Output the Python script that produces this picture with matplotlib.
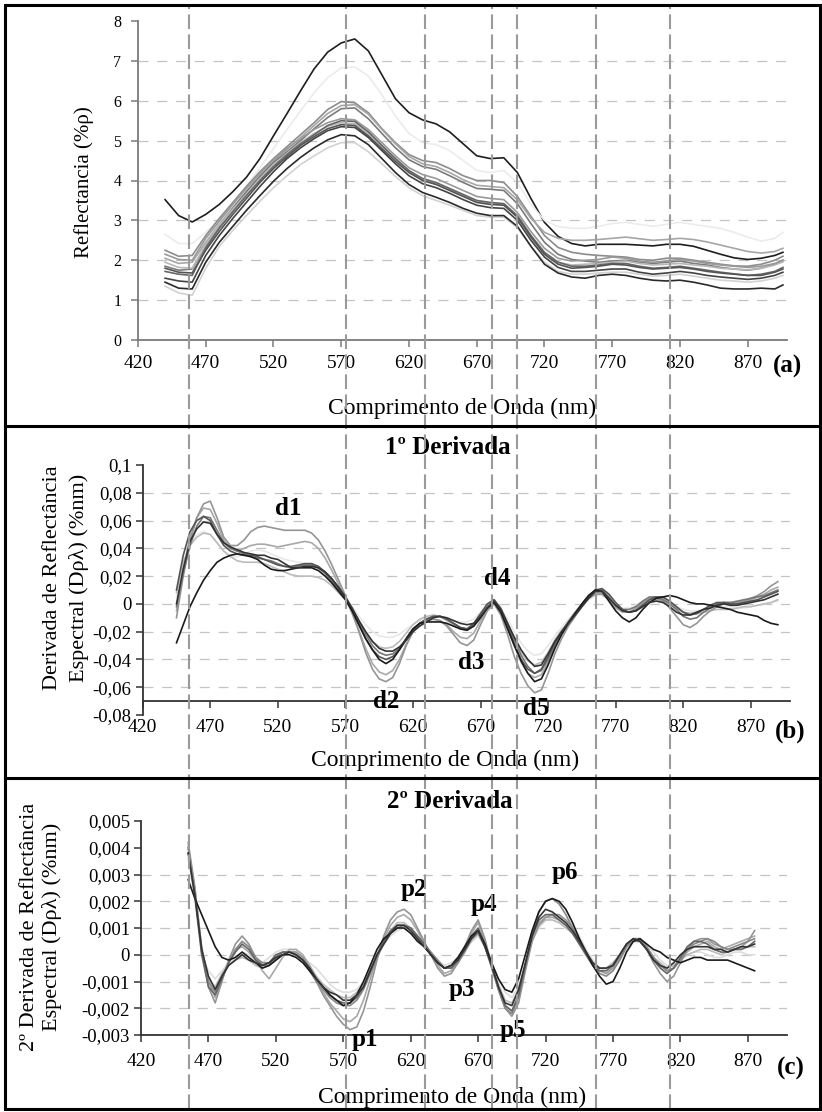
import matplotlib.pyplot as plt
from matplotlib import transforms
from matplotlib.lines import Line2D
from matplotlib.patches import Rectangle

plt.rcParams['font.family'] = ['Liberation Serif', 'DejaVu Serif']

W, H = 822, 1112

# ---------------- data ----------------
# (a) reflectance, %
wl_a = list(range(440, 891, 10)) + [896]
refl = {
    '#1e1e1e': [3.52, 3.12, 2.96, 3.15, 3.40, 3.72, 4.08, 4.55, 5.12, 5.68,
                6.25, 6.80, 7.22, 7.45, 7.55, 7.25, 6.65, 6.05, 5.70, 5.52,
                5.42, 5.22, 4.92, 4.62, 4.55, 4.57, 4.20, 3.55, 2.95, 2.60,
                2.42, 2.36, 2.40, 2.40, 2.40, 2.38, 2.36, 2.40, 2.40, 2.35,
                2.25, 2.15, 2.06, 2.02, 2.05, 2.12, 2.20],
    '#ececec': [2.65, 2.42, 2.42, 2.70, 3.02, 3.42, 3.85, 4.32, 4.80, 5.28,
                5.75, 6.20, 6.58, 6.82, 6.85, 6.62, 6.15, 5.62, 5.18, 4.95,
                4.90, 4.75, 4.50, 4.25, 4.20, 4.25, 3.95, 3.40, 3.00, 2.85,
                2.80, 2.80, 2.85, 2.92, 2.95, 2.90, 2.85, 2.90, 2.95, 2.90,
                2.85, 2.80, 2.70, 2.58, 2.48, 2.55, 2.70],
    '#8c8c8c': [2.25, 2.10, 2.12, 2.62, 3.05, 3.45, 3.85, 4.22, 4.55, 4.85,
                5.15, 5.45, 5.78, 5.98, 5.95, 5.70, 5.30, 4.95, 4.65, 4.50,
                4.45, 4.30, 4.12, 4.00, 4.00, 3.95, 3.60, 3.10, 2.62, 2.32,
                2.20, 2.15, 2.12, 2.10, 2.08, 2.02, 2.00, 2.05, 2.05, 2.00,
                1.95, 1.90, 1.86, 1.85, 1.90, 2.00, 2.10],
    '#a6a6a6': [2.05, 1.92, 1.95, 2.45, 2.90, 3.32, 3.72, 4.12, 4.48, 4.78,
                5.08, 5.38, 5.68, 5.88, 5.90, 5.66, 5.28, 4.92, 4.60, 4.42,
                4.35, 4.20, 4.02, 3.88, 3.85, 3.82, 3.52, 3.05, 2.70, 2.55,
                2.50, 2.50, 2.52, 2.55, 2.58, 2.54, 2.50, 2.52, 2.55, 2.52,
                2.46, 2.38, 2.30, 2.22, 2.18, 2.22, 2.30],
    '#7a7a7a': [1.85, 1.75, 1.78, 2.35, 2.85, 3.30, 3.72, 4.10, 4.45, 4.72,
                5.00, 5.30, 5.58, 5.80, 5.82, 5.55, 5.18, 4.82, 4.52, 4.35,
                4.28, 4.12, 3.95, 3.80, 3.78, 3.75, 3.42, 2.92, 2.45, 2.15,
                2.02, 1.98, 1.95, 1.98, 2.00, 1.95, 1.92, 1.95, 1.98, 1.92,
                1.88, 1.82, 1.78, 1.75, 1.80, 1.90, 2.00],
    '#d2d2d2': [1.35, 1.18, 1.12, 1.80, 2.35, 2.75, 3.12, 3.48, 3.82, 4.12,
                4.40, 4.62, 4.82, 4.95, 4.95, 4.72, 4.42, 4.10, 3.82, 3.62,
                3.50, 3.38, 3.25, 3.12, 3.08, 3.08, 2.82, 2.35, 1.95, 1.72,
                1.65, 1.65, 1.68, 1.70, 1.70, 1.65, 1.60, 1.62, 1.65, 1.60,
                1.55, 1.50, 1.48, 1.45, 1.48, 1.55, 1.62],
    '#b8b8b8': [1.95, 1.82, 1.80, 2.40, 2.88, 3.28, 3.66, 4.05, 4.40, 4.68,
                4.95, 5.18, 5.36, 5.45, 5.42, 5.18, 4.86, 4.52, 4.22, 4.02,
                3.92, 3.78, 3.62, 3.48, 3.42, 3.40, 3.10, 2.62, 2.18, 1.95,
                1.88, 1.90, 1.92, 1.95, 1.98, 1.92, 1.88, 1.90, 1.92, 1.88,
                1.85, 1.80, 1.78, 1.76, 1.80, 1.88, 1.96],
    '#999999': [2.15, 2.02, 2.00, 2.55, 2.98, 3.40, 3.80, 4.18, 4.52, 4.80,
                5.05, 5.28, 5.45, 5.55, 5.52, 5.28, 4.95, 4.62, 4.32, 4.15,
                4.05, 3.90, 3.75, 3.60, 3.55, 3.52, 3.20, 2.72, 2.30, 2.05,
                1.98, 2.00, 2.02, 2.08, 2.05, 1.98, 1.95, 1.98, 2.02, 1.98,
                1.92, 1.88, 1.85, 1.82, 1.85, 1.92, 2.00],
    '#666666': [1.72, 1.65, 1.62, 2.30, 2.80, 3.22, 3.62, 4.00, 4.35, 4.65,
                4.92, 5.15, 5.38, 5.50, 5.48, 5.22, 4.88, 4.55, 4.25, 4.05,
                3.95, 3.80, 3.65, 3.50, 3.45, 3.42, 3.12, 2.62, 2.20, 1.95,
                1.85, 1.85, 1.88, 1.92, 1.92, 1.85, 1.80, 1.82, 1.85, 1.80,
                1.75, 1.70, 1.66, 1.62, 1.65, 1.72, 1.82],
    '#555555': [1.80, 1.70, 1.68, 2.25, 2.72, 3.15, 3.55, 3.95, 4.30, 4.60,
                4.88, 5.10, 5.30, 5.40, 5.38, 5.12, 4.80, 4.48, 4.20, 4.00,
                3.90, 3.75, 3.60, 3.45, 3.40, 3.38, 3.08, 2.58, 2.15, 1.90,
                1.80, 1.82, 1.85, 1.90, 1.88, 1.82, 1.78, 1.80, 1.82, 1.78,
                1.72, 1.68, 1.65, 1.62, 1.62, 1.70, 1.78],
    '#444444': [1.55, 1.48, 1.45, 2.12, 2.62, 3.05, 3.45, 3.85, 4.22, 4.55,
                4.82, 5.05, 5.25, 5.35, 5.33, 5.08, 4.75, 4.42, 4.12, 3.92,
                3.82, 3.68, 3.52, 3.38, 3.32, 3.30, 3.00, 2.50, 2.08, 1.82,
                1.72, 1.72, 1.75, 1.78, 1.78, 1.70, 1.65, 1.68, 1.72, 1.68,
                1.62, 1.58, 1.55, 1.52, 1.55, 1.62, 1.70],
    '#2a2a2a': [1.45, 1.30, 1.28, 1.95, 2.45, 2.85, 3.25, 3.62, 3.98, 4.30,
                4.58, 4.82, 5.02, 5.15, 5.12, 4.90, 4.55, 4.20, 3.90, 3.70,
                3.58, 3.45, 3.30, 3.18, 3.12, 3.12, 2.85, 2.35, 1.90, 1.68,
                1.58, 1.55, 1.62, 1.65, 1.62, 1.55, 1.50, 1.48, 1.50, 1.45,
                1.38, 1.30, 1.28, 1.28, 1.30, 1.28, 1.38],
}

# (b) first derivative, units of 0.001 %/nm
wl_b = list(range(445, 891, 5))
deriv1 = {
    '#e8e8e8': [5, 28, 42, 50, 52, 50, 44, 38, 34, 34,
                36, 38, 39, 38, 36, 34, 32, 31, 30, 29,
                28, 26, 22, 17, 11, 5, -2, -9, -15, -20,
                -23, -24, -24, -22, -18, -15, -12, -10, -9, -9,
                -10, -12, -13, -13, -11, -6, -1, 2, -3, -11,
                -20, -28, -34, -37, -36, -30, -23, -17, -11, -6,
                -1, 3, 6, 6, 3, -1, -3, -3, -1, 2,
                4, 4, 3, 1, -2, -4, -5, -5, -4, -3,
                -2, -2, -2, -3, -3, -2, -1, 0, 1, 2],
    '#bbbbbb': [8, 30, 42, 48, 51, 50, 44, 38, 34, 31,
                30, 30, 30, 29, 27, 25, 23, 21, 20, 20,
                20, 19, 17, 13, 8, 3, -4, -12, -20, -27,
                -31, -32, -31, -27, -21, -15, -11, -9, -8, -9,
                -12, -15, -18, -19, -16, -9, -2, 1, -5, -15,
                -26, -35, -41, -44, -42, -35, -26, -19, -13, -7,
                -1, 4, 7, 7, 3, -2, -5, -6, -4, -1,
                2, 3, 2, 0, -3, -6, -7, -7, -6, -5,
                -4, -4, -4, -3, -2, -2, -1, 0, 1, 3],
    '#a8a8a8': [-5, 25, 48, 62, 69, 68, 58, 46, 40, 38,
                40, 42, 43, 43, 42, 41, 42, 43, 44, 45,
                44, 40, 33, 24, 14, 4, -7, -19, -32, -43,
                -49, -51, -48, -40, -29, -20, -15, -12, -11, -12,
                -15, -20, -24, -25, -21, -12, -4, 1, -5, -17,
                -30, -42, -50, -53, -51, -42, -31, -22, -14, -7,
                -1, 5, 8, 8, 3, -3, -6, -6, -3, 1,
                4, 5, 4, 1, -3, -6, -7, -6, -4, -2,
                0, 1, 1, 0, 1, 3, 5, 7, 10, 12],
    '#959595': [-10, 20, 45, 62, 72, 74, 62, 48, 42, 42,
                46, 52, 55, 56, 55, 54, 53, 53, 53, 53,
                51, 46, 38, 28, 17, 6, -6, -20, -35, -47,
                -54, -56, -53, -43, -30, -20, -14, -12, -11, -12,
                -16, -22, -28, -30, -26, -15, -5, 0, -8, -22,
                -38, -50, -59, -64, -62, -50, -36, -25, -16, -9,
                -2, 4, 7, 7, 3, -2, -5, -6, -4, 0,
                3, 4, 2, -3, -9, -15, -17, -14, -9, -5,
                -2, 0, 0, 1, 2, 4, 6, 9, 13, 16],
    '#777777': [-2, 22, 42, 56, 63, 62, 53, 44, 40, 38,
                36, 34, 33, 32, 31, 29, 27, 26, 27, 28,
                28, 26, 22, 16, 10, 4, -4, -13, -22, -30,
                -35, -37, -36, -32, -25, -18, -14, -11, -9, -9,
                -11, -14, -17, -18, -15, -9, -2, 3, -3, -14,
                -26, -37, -45, -50, -48, -40, -30, -21, -13, -6,
                0, 6, 10, 10, 5, -1, -4, -4, -2, 2,
                5, 5, 3, 0, -4, -9, -11, -10, -6, -3,
                0, 1, 1, 2, 3, 4, 5, 6, 8, 10],
    '#555555': [10, 35, 52, 60, 63, 60, 50, 42, 38, 36,
                35, 35, 34, 32, 30, 28, 27, 27, 28, 29,
                29, 27, 23, 18, 11, 4, -5, -15, -25, -33,
                -38, -40, -38, -33, -26, -19, -14, -11, -9, -9,
                -11, -14, -17, -18, -14, -7, 0, 3, -4, -16,
                -29, -40, -47, -50, -47, -38, -28, -20, -13, -7,
                -1, 5, 10, 11, 7, 1, -4, -6, -5, -1,
                3, 5, 5, 2, -2, -6, -8, -7, -4, -1,
                1, 1, 0, 0, 1, 2, 3, 5, 7, 9],
    '#1a1a1a': [-28, -15, -2, 8, 17, 24, 30, 33, 35, 36,
                35, 34, 32, 28, 25, 24, 24, 25, 26, 26,
                26, 24, 20, 15, 9, 3, -5, -15, -25, -33,
                -40, -43, -40, -33, -25, -18, -14, -13, -13, -13,
                -14, -16, -18, -19, -16, -10, -3, 1, -6, -18,
                -30, -41, -50, -56, -54, -44, -32, -22, -14, -7,
                0, 6, 10, 9, 2, -5, -10, -13, -10, -4,
                1, 4, 5, 6, 5, 3, 1, 0, 0, -1,
                -2, -3, -4, -6, -7, -8, -9, -12, -14, -15],
    '#333333': [0, 25, 45, 54, 59, 58, 50, 44, 41, 39,
                37, 36, 35, 35, 33, 32, 29, 26, 26, 27,
                27, 26, 23, 18, 12, 5, -3, -12, -20, -27,
                -32, -34, -34, -31, -26, -20, -16, -13, -10, -9,
                -10, -12, -14, -15, -14, -9, -3, 2, -4, -14,
                -24, -33, -40, -45, -44, -36, -27, -20, -14, -8,
                -2, 4, 9, 9, 4, -1, -5, -6, -5, -2,
                1, 2, 1, -2, -6, -8, -8, -6, -4, -3,
                -1, 0, -1, -1, 0, 1, 2, 3, 5, 7],
}

# (c) second derivative, units of 0.0001 %/nm
wl_c = list(range(455, 876, 5))
deriv2 = {
    '#dddddd': [36, 20, 0, -6, -9, -6, -3, -1, 1, 0,
                -2, -3, -1, 1, 2, 2, 1, -1, -3, -5,
                -8, -11, -13, -14, -14, -13, -10, -5, 0, 4,
                7, 9, 10, 8, 6, 3, 0, -2, -4, -3,
                -1, 2, 5, 7, 3, -3, -9, -14, -16, -12,
                -4, 5, 10, 13, 14, 14, 13, 11, 7, 2,
                -2, -5, -6, -5, -2, 2, 5, 6, 4, 1,
                -2, -4, -4, -2, 0, 1, 1, 0, -1, -1,
                0, 1, 1, 0, 0],
    '#bbbbbb': [41, 24, 2, -9, -12, -7, -4, -2, -1, -2,
                -4, -5, -4, -2, 0, 1, 1, -1, -4, -8,
                -11, -13, -15, -16, -16, -14, -11, -6, 0, 5,
                9, 12, 12, 10, 7, 3, 0, -3, -5, -5,
                -3, 1, 5, 8, 3, -4, -11, -17, -18, -13,
                -4, 6, 11, 13, 13, 12, 10, 8, 5, 1,
                -3, -5, -5, -4, -1, 3, 5, 5, 2, -1,
                -3, -5, -4, -2, 0, 1, 2, 2, 1, 0,
                1, 2, 2, 3, 3],
    '#a8a8a8': [40, 24, 3, -10, -16, -9, -3, 2, 3, 1,
                -2, -6, -9, -5, -1, 2, 2, 0, -4, -9,
                -14, -18, -21, -24, -25, -23, -17, -9, -1, 6,
                11, 14, 15, 13, 9, 4, 0, -4, -7, -6,
                -3, 2, 8, 12, 5, -4, -12, -19, -21, -16,
                -5, 6, 12, 14, 14, 13, 11, 8, 4, 0,
                -3, -5, -5, -3, 0, 4, 6, 6, 3, -1,
                -4, -6, -5, -2, 1, 3, 4, 5, 3, 2,
                3, 4, 5, 6, 7],
    '#959595': [42, 25, 2, -12, -18, -10, -2, 4, 7, 4,
                -1, -4, -4, -2, 0, 1, 1, -1, -5, -10,
                -15, -19, -23, -26, -28, -27, -21, -12, -2, 7,
                13, 16, 17, 15, 10, 5, 0, -5, -8, -7,
                -3, 3, 9, 13, 6, -4, -13, -20, -23, -18,
                -6, 5, 11, 14, 15, 15, 13, 10, 6, 1,
                -3, -6, -7, -5, -1, 3, 5, 5, 2, -3,
                -7, -10, -8, -3, 2, 5, 6, 6, 4, 3,
                2, 2, 3, 5, 9],
    '#888888': [40, 23, 1, -10, -14, -8, -3, 2, 5, 3,
                -1, -3, -3, -1, 1, 1, 0, -2, -6, -10,
                -13, -16, -18, -19, -19, -17, -13, -7, -1, 4,
                8, 10, 11, 10, 7, 4, 1, -2, -5, -5,
                -3, 1, 6, 8, 3, -5, -13, -20, -22, -16,
                -4, 8, 16, 20, 21, 19, 15, 10, 5, 0,
                -4, -7, -8, -6, -2, 3, 6, 6, 3, -1,
                -4, -6, -5, -2, 2, 4, 5, 6, 5, 3,
                2, 3, 4, 5, 6],
    '#666666': [38, 22, 0, -12, -15, -9, -3, 1, 4, 2,
                -2, -4, -3, 0, 1, 1, 0, -2, -5, -9,
                -12, -15, -17, -18, -18, -16, -12, -6, 0, 5,
                9, 11, 11, 10, 7, 4, 0, -3, -5, -5,
                -2, 2, 7, 10, 4, -4, -12, -19, -21, -15,
                -4, 7, 13, 15, 15, 13, 11, 8, 4, 0,
                -4, -6, -6, -4, 0, 4, 6, 5, 2, -2,
                -5, -7, -5, -1, 3, 5, 5, 4, 2, 1,
                1, 2, 2, 3, 5],
    '#1a1a1a': [28, 21, 15, 9, 3, -1, -2, -1, 1, -1,
                -3, -5, -4, -2, 0, 0, -1, -3, -6, -9,
                -12, -15, -17, -19, -18, -15, -10, -4, 2, 6,
                8, 10, 10, 8, 5, 3, 0, -3, -5, -4,
                -1, 3, 7, 9, 4, -3, -9, -13, -14, -9,
                0, 9, 16, 20, 21, 20, 17, 12, 6, 1,
                -4, -8, -11, -10, -5, 1, 5, 6, 4, 2,
                1, -1, -2, -3, -2, -1, -1, -2, -2, -2,
                -2, -3, -4, -5, -6],
    '#333333': [38, 22, 2, -8, -13, -8, -4, -2, 0, -2,
                -3, -4, -3, -1, 0, 1, 0, -2, -5, -9,
                -12, -14, -15, -17, -17, -15, -12, -6, 0, 4,
                8, 11, 11, 9, 6, 3, 0, -3, -5, -4,
                -2, 2, 6, 9, 3, -4, -12, -18, -19, -13,
                -3, 7, 14, 17, 16, 14, 12, 9, 5, 1,
                -3, -5, -5, -4, 0, 4, 6, 5, 2, -2,
                -4, -5, -3, 0, 2, 3, 3, 3, 2, 2,
                1, 2, 3, 3, 4],
}

# wavelengths of the vertical reference lines, nm
markers_nm = [458, 573.5, 631.5, 681, 700, 758, 813]
xticks = list(range(420, 871, 50))
yt_a = list(range(0, 9))
yt_b = [-0.08, -0.06, -0.04, -0.02, 0, 0.02, 0.04, 0.06, 0.08, 0.1]
yt_c = [-0.003, -0.002, -0.001, 0, 0.001, 0.002, 0.003, 0.004, 0.005]

labels_b = [('d1', 528, 0.069), ('d2', 600, -0.0705), ('d3', 663, -0.0425),
            ('d4', 682, 0.0186), ('d5', 711, -0.0752)]
labels_c = [('p1', 586, -0.00315), ('p2', 622, 0.00243), ('p3', 658, -0.0013),
            ('p4', 674, 0.00187), ('p5', 696, -0.00285), ('p6', 734, 0.00306)]

# ---------------- figure ----------------
fig = plt.figure(figsize=(W / 100, H / 100), dpi=100)


def px_axes(left, top, right, bottom):
    return fig.add_axes([left / W, 1 - bottom / H, (right - left) / W, (bottom - top) / H])


def style(ax, ticks, grid, spine_color, xfs, yfs, xpad, ypad, fmt):
    for s in ('top', 'right'):
        ax.spines[s].set_visible(False)
    for s in ('left', 'bottom'):
        ax.spines[s].set_color(spine_color)
        ax.spines[s].set_linewidth(1.3)
    ax.set_xlim(420, 899)
    ax.set_xticks(xticks)
    ax.set_yticks(ticks)
    ax.set_yticklabels([fmt(v) for v in ticks])
    ax.tick_params(direction='out', length=5, width=1.1, color=spine_color)
    ax.tick_params(axis='x', labelsize=xfs, pad=xpad)
    ax.tick_params(axis='y', labelsize=yfs, pad=ypad)
    for g in grid:
        ax.axhline(g, color='#c4c4c4', lw=0.9, dashes=(8, 7), zorder=0)
    ax.patch.set_alpha(0)


def comma(v):
    return f'{v:g}'.replace('.', ',')


ax_a = px_axes(138, 21, 787, 340)
ax_b = px_axes(142.7, 465, 790, 715)
ax_c = px_axes(141, 821, 787, 1035)

# (a)
for col, vals in refl.items():
    ax_a.plot(wl_a, vals, color=col, lw=1.2)
ax_a.set_ylim(0, 8)
style(ax_a, yt_a, yt_a[1:-1], '#7a7a7a', 14, 11.5, 6, 7, comma)

# (b)
for col, vals in deriv1.items():
    ax_b.plot(wl_b, [v / 1000 for v in vals], color=col, lw=1.2)
ax_b.set_ylim(-0.08, 0.1)
ax_b.spines['bottom'].set_position(('data', -0.07))
style(ax_b, yt_b, yt_b[1:-1], '#333333', 14, 13.5, 8, 3, lambda v: comma(round(v, 2)))
for t, x, y in labels_b:
    ax_b.text(x, y, t, fontsize=18, fontweight='bold', ha='center', va='center')

# (c)
for col, vals in deriv2.items():
    ax_c.plot(wl_c, [v / 10000 for v in vals], color=col, lw=1.2)
ax_c.set_ylim(-0.003, 0.005)
style(ax_c, yt_c, yt_c[1:-2], '#333333', 14, 13.5, 8, 3, lambda v: comma(round(v, 3)))
for t, x, y in labels_c:
    ax_c.text(x, y, t, fontsize=18, fontweight='bold', ha='center', va='center')


def ftext(x, y, s, **kw):
    fig.text(x / W, 1 - y / H, s, ha='center', va='center', **kw)


# axis titles and labels
ftext(84, 182, 'Reflectancia (%ρ)', fontsize=15, rotation=90)
ftext(462, 408, 'Comprimento de Onda (nm)', fontsize=17)
ftext(787, 366, '(a)', fontsize=18, fontweight='bold')

ftext(448, 448, '1º Derivada', fontsize=18, fontweight='bold')
ftext(66, 578, 'Derivada de Reflectância\nEspectral (Dρλ) (%nm)', fontsize=16,
      rotation=90, linespacing=1.5)
ftext(445, 760, 'Comprimento de Onda (nm)', fontsize=17)
ftext(790, 731, '(b)', fontsize=18, fontweight='bold')

ftext(450, 802, '2º Derivada', fontsize=18, fontweight='bold')
ftext(41, 927, '2º Derivada de Reflectância\nEspectral (Dρλ) (%nm)', fontsize=16,
      rotation=90, linespacing=1.25)
ftext(452, 1097, 'Comprimento de Onda (nm)', fontsize=17)
ftext(791, 1068, '(c)', fontsize=18, fontweight='bold')

# frame and panel separators
fig.add_artist(Rectangle((5 / W, 3 / H), 815 / W, 1104 / H, transform=fig.transFigure,
                         fill=False, lw=2.2, ec='black', zorder=6))
for ysep in (426, 778):
    fig.add_artist(Line2D([5 / W, 820 / W], [1 - ysep / H] * 2, transform=fig.transFigure,
                          color='black', lw=2.2, zorder=6))

# dashed vertical reference lines crossing all panels
trans = transforms.blended_transform_factory(ax_a.transData, fig.transFigure)
for m in markers_nm:
    fig.add_artist(Line2D([m, m], [3 / H, 1 - 5 / H], transform=trans,
                          color='#9a9a9a', lw=1.5, dashes=(7, 2.6), zorder=5))

fig.savefig('out.png', dpi=100, facecolor='white')
